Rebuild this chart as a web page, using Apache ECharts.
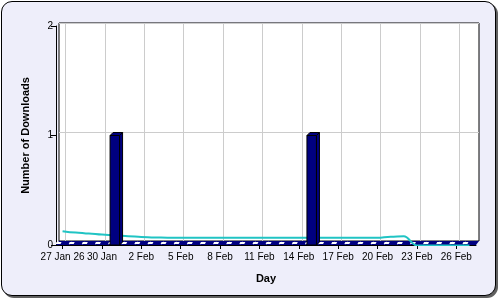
<!DOCTYPE html>
<html>
<head>
<meta charset="utf-8">
<script src="https://cdn.jsdelivr.net/npm/echarts@6/dist/echarts.min.js"></script>
<style>
  html, body { margin: 0; padding: 0; background: #ffffff; }
  #wrap { position: relative; width: 500px; height: 300px; }
  #frame { position: absolute; left: 1px; top: 1px; width: 495px; height: 295px; box-sizing: border-box;
           border: 1px solid #000; border-radius: 11px; background: #EEEEFA; box-shadow: 2px 2px 0 #606060; }
  #chart { position: absolute; left: 0; top: 0; width: 500px; height: 300px; }
</style>
</head>
<body>
<div id="wrap"><div id="frame"></div><div id="chart"></div></div>
<script>
// ---- data ----
const days = ['27 Jan 26','28 Jan','29 Jan','30 Jan','31 Jan','1 Feb','2 Feb','3 Feb','4 Feb','5 Feb','6 Feb',
  '7 Feb','8 Feb','9 Feb','10 Feb','11 Feb','12 Feb','13 Feb','14 Feb','15 Feb','16 Feb','17 Feb','18 Feb',
  '19 Feb','20 Feb','21 Feb','22 Feb','23 Feb','24 Feb','25 Feb','26 Feb','27 Feb'];
const downloads = [0,0,0,0,1,0,0,0,0,0,0,0,0,0,0,0,0,0,0,1,0,0,0,0,0,0,0,0,0,0,0,0];
const trend = [0.125,0.114,0.104,0.095,0.087,0.080,0.074,0.069,0.067,0.066,0.066,0.066,0.066,0.066,0.066,0.066,
  0.066,0.066,0.066,0.066,0.066,0.066,0.066,0.066,0.066,0.076,0.080,-0.005,-0.005,-0.005,-0.005,-0.005];
const yTicks = [0, 1, 2];
const labelEvery = 3;
const xTitle = 'Day';
const yTitle = 'Number of Downloads';

const FONT = "'Liberation Sans', Arial, sans-serif";
const NAVY = '#000080';
const chart = echarts.init(document.getElementById('chart'), null, { renderer: 'canvas' });

// plot geometry (back plane / front plane of the 3D box)
const backL = 59, backR = 21, backT = 23, backB = 59;
const frontL = 56, frontR = 24, frontT = 26, frontB = 55;
const catW = (500 - backL - backR) / days.length;
const lastGrid = Math.floor((days.length - 1) / labelEvery) * labelEvery;

function floorItem(params, api) {
  const i = api.value(0);
  const p = api.coord([i, 0]);
  const w = api.size([1, 0])[0];
  const x0 = p[0] - w / 2, x1 = p[0] + w / 2, y = p[1];
  const c = p[0];
  return {
    type: 'group',
    children: [
      { type: 'polygon', shape: { points: [[x0, y], [x1, y], [x1 + 3, y - 4], [x0 + 3, y - 4]] },
        style: { fill: NAVY, stroke: null } },
      { type: 'polygon', shape: { points: [[c - 7, y - 1], [c - 2, y - 1], [c - 1, y - 3], [c - 6, y - 3]] },
        style: { fill: '#ffffff', stroke: null } }
    ]
  };
}

function barItem(params, api) {
  const v = api.value(1);
  if (!v) return null;
  const i = api.value(0);
  const p0 = api.coord([i, 0]);
  const p1 = api.coord([i, v]);
  const l = p0[0] - 5, r = p0[0] + 4.5, top = p1[1], bot = p0[1], d = 3;
  const st = { fill: NAVY, stroke: '#000', lineWidth: 1 };
  return {
    type: 'group',
    children: [
      { type: 'polygon', shape: { points: [[r, bot], [r + d, bot - d], [r + d, top - d], [r, top]] }, style: st },
      { type: 'polygon', shape: { points: [[l, top], [l + d, top - d], [r + d, top - d], [r, top]] }, style: st },
      { type: 'rect', shape: { x: l, y: top, width: r - l, height: bot - top }, style: st }
    ]
  };
}

const gl = backL + catW / 2;
chart.setOption({
  animation: false,
  textStyle: { fontFamily: FONT },
  grid: [
    { left: backL, right: backR, top: backT, bottom: backB, show: true, backgroundColor: '#ffffff', borderColor: '#000', borderWidth: 1 },
    { left: frontL, right: frontR, top: frontT, bottom: frontB },
    { left: gl, right: 500 - gl - catW * lastGrid, top: backT + 1, bottom: backB }
  ],
  xAxis: [
    { type: 'category', gridIndex: 0, data: days, boundaryGap: true,
      axisLine: { show: false }, axisTick: { show: false }, axisLabel: { show: false }, splitLine: { show: false } },
    { type: 'category', gridIndex: 1, data: days, boundaryGap: true,
      name: xTitle, nameLocation: 'middle', nameGap: 28,
      nameTextStyle: { fontFamily: FONT, fontSize: 11, fontWeight: 'bold', color: '#000' },
      axisLine: { show: true, lineStyle: { color: '#000', width: 1 } },
      axisTick: { show: true, alignWithLabel: true, interval: labelEvery - 1, length: 4, lineStyle: { color: '#000' } },
      axisLabel: { interval: labelEvery - 1, fontSize: 10, color: '#000', margin: 7, fontFamily: FONT, hideOverlap: false },
      splitLine: { show: false } },
    { type: 'value', gridIndex: 2, min: 0, max: lastGrid, interval: labelEvery,
      axisLine: { show: false }, axisTick: { show: false }, axisLabel: { show: false },
      splitLine: { show: true, lineStyle: { color: '#cccccc', width: 1 } } }
  ],
  yAxis: [
    { type: 'value', gridIndex: 0, min: yTicks[0], max: yTicks[yTicks.length - 1], interval: 1,
      axisLine: { show: false }, axisTick: { show: false }, axisLabel: { show: false },
      splitLine: { show: true, lineStyle: { color: '#cccccc', width: 1 } } },
    { type: 'value', gridIndex: 1, min: yTicks[0], max: yTicks[yTicks.length - 1], interval: 1,
      name: yTitle, nameLocation: 'middle', nameGap: 25,
      nameTextStyle: { fontFamily: FONT, fontSize: 11, fontWeight: 'bold', color: '#000' },
      axisLine: { show: true, lineStyle: { color: '#000', width: 1 } },
      axisTick: { show: true, length: 5, lineStyle: { color: '#000' } },
      axisLabel: { fontSize: 10, color: '#000', margin: 3, fontFamily: FONT },
      splitLine: { show: false } },
    { type: 'value', gridIndex: 2, min: 0, max: 1, show: false, splitLine: { show: false } }
  ],
  series: [
    { type: 'custom', name: 'floor', xAxisIndex: 1, yAxisIndex: 1, z: 3, silent: true,
      renderItem: floorItem, data: days.map((d, i) => [i, 0]), encode: { x: 0, y: 1 } },
    { type: 'line', name: 'trend', xAxisIndex: 1, yAxisIndex: 1, z: 4, data: trend,
      smooth: 0.4, smoothMonotone: 'x', symbol: 'none',
      lineStyle: { color: '#20C4C4', width: 2 } },
    { type: 'custom', name: 'Downloads', xAxisIndex: 1, yAxisIndex: 1, z: 5,
      renderItem: barItem, data: downloads.map((v, i) => [i, v]), encode: { x: 0, y: 1 } }
  ]
});
</script>
</body>
</html>
